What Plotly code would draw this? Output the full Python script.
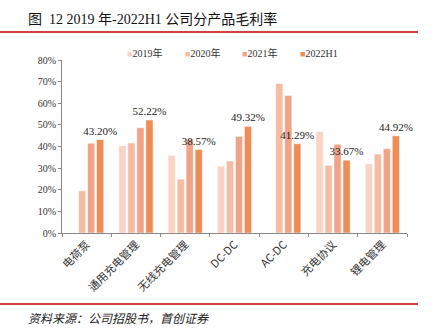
import plotly.graph_objects as go

categories = ["电荷泵", "通用充电管理", "无线充电管理", "DC-DC", "AC-DC", "充电协议", "锂电管理"]
series_names = ["2019年", "2020年", "2021年", "2022H1"]
v2019 = [None, 40.4, 35.9, 30.9, None, 46.9, 31.9]
v2020 = [19.5, 41.6, 24.9, 33.3, 69.1, 31.3, 36.5]
v2021 = [41.5, 48.7, 43.3, 44.7, 63.6, 41.0, 39.0]
v2022 = [43.20, 52.22, 38.57, 49.32, 41.29, 33.67, 44.92]
colors = ["#F9D3C5", "#F5BBA3", "#F0A487", "#EE8C55"]

SERIF = "Liberation Serif, Times New Roman, Noto Sans CJK SC, serif"
CJK = "Noto Sans CJK SC, sans-serif"

fig = go.Figure()
for name, vals, col in zip(series_names, [v2019, v2020, v2021, v2022], colors):
    kw = {}
    if name == "2022H1":
        kw = dict(text=[f"{v:.2f}%" for v in vals], textposition="outside", constraintext="none",
                  textfont=dict(family=SERIF, size=11, color="#222"), cliponaxis=False)
    fig.add_trace(go.Bar(x=categories, y=vals, name=name, showlegend=False,
                         marker=dict(color=col, line=dict(color="white", width=0.5)), **kw))

L, R, T, B = 62, 29, 60, 97
W, H = 436, 330
pw, ph = W - L - R, H - T - B
def px(x): return (x - L) / pw
def py(y): return (H - B - y) / ph

legend_x = [125, 183, 240, 298]
annotations = [
    dict(text="图  12 2019 年-2022H1 公司分产品毛利率", xref="paper", yref="paper",
         x=px(26), y=py(19), xanchor="left", yanchor="middle", showarrow=False,
         font=dict(family="Liberation Serif, Noto Sans CJK SC", size=14, color="#111")),
    dict(text="<i>资料来源：公司招股书，首创证券</i>", xref="paper", yref="paper",
         x=px(26), y=py(317), xanchor="left", yanchor="middle", showarrow=False,
         font=dict(family=CJK, size=12, color="#222")),
]
for name, col, lx in zip(series_names, colors, legend_x):
    annotations.append(dict(
        text=f"<span style='color:{col};font-size:9px'>■</span>{name}", xref="paper", yref="paper",
        x=px(lx), y=py(53), xanchor="left", yanchor="middle", showarrow=False,
        font=dict(family=SERIF, size=10, color="#333")))

fig.update_layout(
    width=W, height=H, margin=dict(l=L, r=R, t=T, b=B),
    paper_bgcolor="white", plot_bgcolor="white",
    barmode="group", bargap=0.27, bargroupgap=0.2,
    font=dict(family=SERIF, size=10, color="#333"),
    showlegend=False,
    yaxis=dict(range=[0, 80], dtick=10, ticksuffix="%", showgrid=False, zeroline=False,
               showline=True, linecolor="#888", linewidth=1, ticks="outside", ticklen=3,
               tickcolor="#888", tickfont=dict(family=SERIF, size=10, color="#333")),
    xaxis=dict(showline=True, linecolor="#888", linewidth=1, ticks="outside", ticklen=3,
               tickcolor="#888", tickson="boundaries", tickangle=-45,
               tickfont=dict(family=CJK, size=11, color="#333")),
    shapes=[
        dict(type="line", xref="paper", yref="paper", x0=px(0), x1=px(418), y0=py(32), y1=py(32),
             line=dict(color="#C00000", width=1.5)),
        dict(type="line", xref="paper", yref="paper", x0=px(0), x1=px(418), y0=py(304), y1=py(304),
             line=dict(color="#C00000", width=1.5)),
    ],
    annotations=annotations,
)
fig.write_html("out.html")
